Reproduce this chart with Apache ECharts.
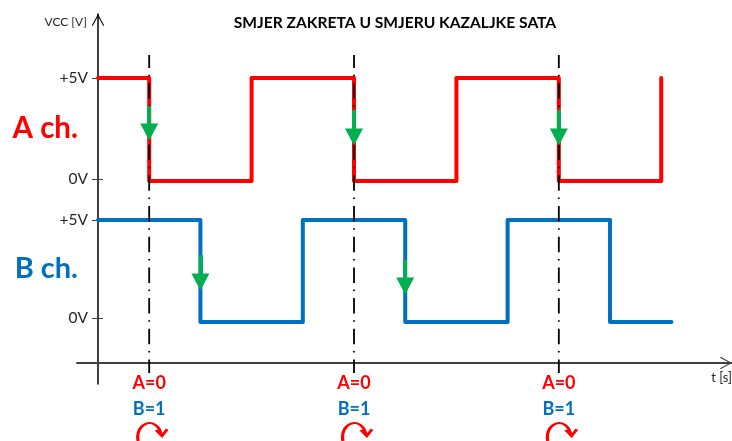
<!DOCTYPE html>
<html>
<head>
<meta charset="utf-8">
<style>html,body{margin:0;padding:0;background:#fff}#chart{width:732px;height:441px}</style>
<script src="https://cdn.jsdelivr.net/npm/echarts@6/dist/echarts.min.js"></script>
</head>
<body>
<div id="chart"></div>
<script>
// t is in half periods, level in volts (both)
var aTimes = [0, 0.5, 1.5, 2.5, 3.5, 4.5, 5.5];
var aLevels = [5, -0.1, 5, -0.1, 5, -0.1, 5];
var bTimes = [0, 1, 2, 3, 4, 5, 5.6];
var bLevels = [5, -0.2, 5, -0.2, 5, -0.2, -0.2];
var guideTimes = [0.5, 2.5, 4.5];
var guideRange = [-10, 308];
var aArrows = [[0.5, 3.61, 2.33], [2.5, 3.42, 2.08], [4.5, 3.42, 2.08]];
var bArrows = [[1, 3.21, 1.84], [3, 2.96, 1.63]];
var voltLabels = {0: '0V', 5: '+5V'};
var stateLabels = ['A=0', 'B=1'];
var turnLevel = -69;

var chart = echarts.init(document.getElementById('chart'));

var arrowHead = 'path://M-7 13 L0 0 L7 13 L6 13.6 L0 2.6 L-6 13.6 Z';
var turnArrow = 'path://M-11.5 6 A12 12 0 1 1 12 1.7 M6.7 -3.3 L12.7 1.7 L18 -4';

function channelGrid(top, height) {
    return {left: 98, right: 0, top: top, height: height, outerBoundsMode: 'none'};
}
function channelX(index) {
    return {type: 'value', gridIndex: index, min: 0, max: 6.191, show: false};
}
function channelY(index, name, color, size, gap) {
    return {
        type: 'value', gridIndex: index, min: 0, max: 5, interval: 5, offset: -5,
        name: name, nameLocation: 'middle', nameRotate: 0, nameGap: gap, nameMoveOverlap: false,
        nameTextStyle: {color: color, fontFamily: 'Lato', fontWeight: 'bold', fontSize: size},
        splitLine: {show: false},
        axisLine: {show: false},
        axisTick: {show: true, length: 11, lineStyle: {color: '#404040', width: 1}},
        axisLabel: {
            margin: 15, color: '#262626', fontFamily: 'Lato', fontSize: 15.5,
            formatter: function (v) { return voltLabels[v]; }
        }
    };
}
function pairs(times, levels) {
    return times.map(function (t, i) { return [t, levels[i]]; });
}
function arrowLines(list) {
    return list.map(function (a) {
        return [{coord: [a[0], a[1]]}, {coord: [a[0], a[2]]}];
    });
}
function pulse(name, index, times, levels, color, arrows) {
    return {
        name: name, type: 'line', step: 'end', xAxisIndex: index, yAxisIndex: index,
        data: pairs(times, levels), symbol: 'none', clip: false, z: 2,
        lineStyle: {color: color, width: 4, join: 'round', cap: 'round'},
        markLine: {
            silent: true, animation: false, z: 5,
            symbol: ['none', 'triangle'], symbolSize: [18, 17],
            label: {show: false},
            lineStyle: {color: '#00b050', width: 4, type: 'solid'},
            data: arrowLines(arrows)
        }
    };
}

var guideSeries = guideTimes.map(function (t) {
    return {
        type: 'line', xAxisIndex: 0, yAxisIndex: 0, symbol: 'none', clip: false, z: 3,
        data: [[t, guideRange[0]], [t, guideRange[1]]],
        lineStyle: {color: '#000', width: 1.8, type: [15.5, 7, 1.5, 6.7], dashOffset: 2}
    };
});

option = {
    animation: false,
    backgroundColor: '#fff',
    title: {
        text: 'SMJER ZAKRETA U SMJERU KAZALJKE SATA',
        left: 390, top: 10, textAlign: 'center',
        textStyle: {color: '#000', fontFamily: 'Lato', fontWeight: 'bold', fontSize: 15.6}
    },
    grid: [
        {left: 77, right: 0, top: 14, height: 370, outerBoundsMode: 'none'},
        channelGrid(78, 101),
        channelGrid(220, 98)
    ],
    xAxis: [
        {
            type: 'value', gridIndex: 0, min: -0.205, max: 6.191,
            name: 't [s]', nameLocation: 'end', nameGap: 0,
            nameTextStyle: {color: '#262626', fontFamily: 'Lato', fontSize: 13, align: 'right', verticalAlign: 'top', padding: [8, 0, 0, 0]},
            splitLine: {show: false},
            axisTick: {show: false},
            axisLine: {
                onZero: true,
                symbol: ['none', arrowHead], symbolSize: [14, 12], symbolOffset: [0, -6],
                lineStyle: {color: '#404040', width: 2}
            },
            axisLabel: {
                customValues: guideTimes, margin: -14, verticalAlign: 'top',
                formatter: function () {
                    return '{a|' + stateLabels[0] + '}\n{b|' + stateLabels[1] + '}';
                },
                rich: {
                    a: {color: '#ff0000', fontFamily: 'Lato', fontWeight: 'bold', fontSize: 18, lineHeight: 26},
                    b: {color: '#0070c0', fontFamily: 'Lato', fontWeight: 'bold', fontSize: 18, lineHeight: 26}
                }
            }
        },
        channelX(1),
        channelX(2)
    ],
    yAxis: [
        {
            type: 'value', gridIndex: 0, min: -21, max: 349,
            name: 'VCC [V]', nameLocation: 'end', nameGap: -14,
            nameTextStyle: {color: '#262626', fontFamily: 'Lato', fontSize: 12, align: 'right', padding: [0, 11, 0, 0]},
            splitLine: {show: false},
            axisTick: {show: false},
            axisLabel: {show: false},
            axisLine: {
                onZero: true,
                symbol: ['none', arrowHead], symbolSize: [14, 12], symbolOffset: [0, -6],
                lineStyle: {color: '#000', width: 1.5}
            }
        },
        channelY(1, 'A ch.', '#ff0000', 29.5, 25),
        channelY(2, 'B ch.', '#0070c0', 29, 25)
    ],
    series: [
        pulse('A ch.', 1, aTimes, aLevels, '#ff0000', aArrows),
        pulse('B ch.', 2, bTimes, bLevels, '#0070c0', bArrows),
        {
            type: 'scatter', xAxisIndex: 0, yAxisIndex: 0, clip: false, z: 4,
            data: guideTimes.map(function (t) { return [t, turnLevel]; }),
            symbol: turnArrow, symbolSize: [29.5, 18], symbolOffset: [3.25, 0],
            itemStyle: {color: 'rgba(0,0,0,0)', borderColor: '#ff0000', borderWidth: 2.5, opacity: 1}
        }
    ].concat(guideSeries)
};
chart.setOption(option);
</script>
</body>
</html>
